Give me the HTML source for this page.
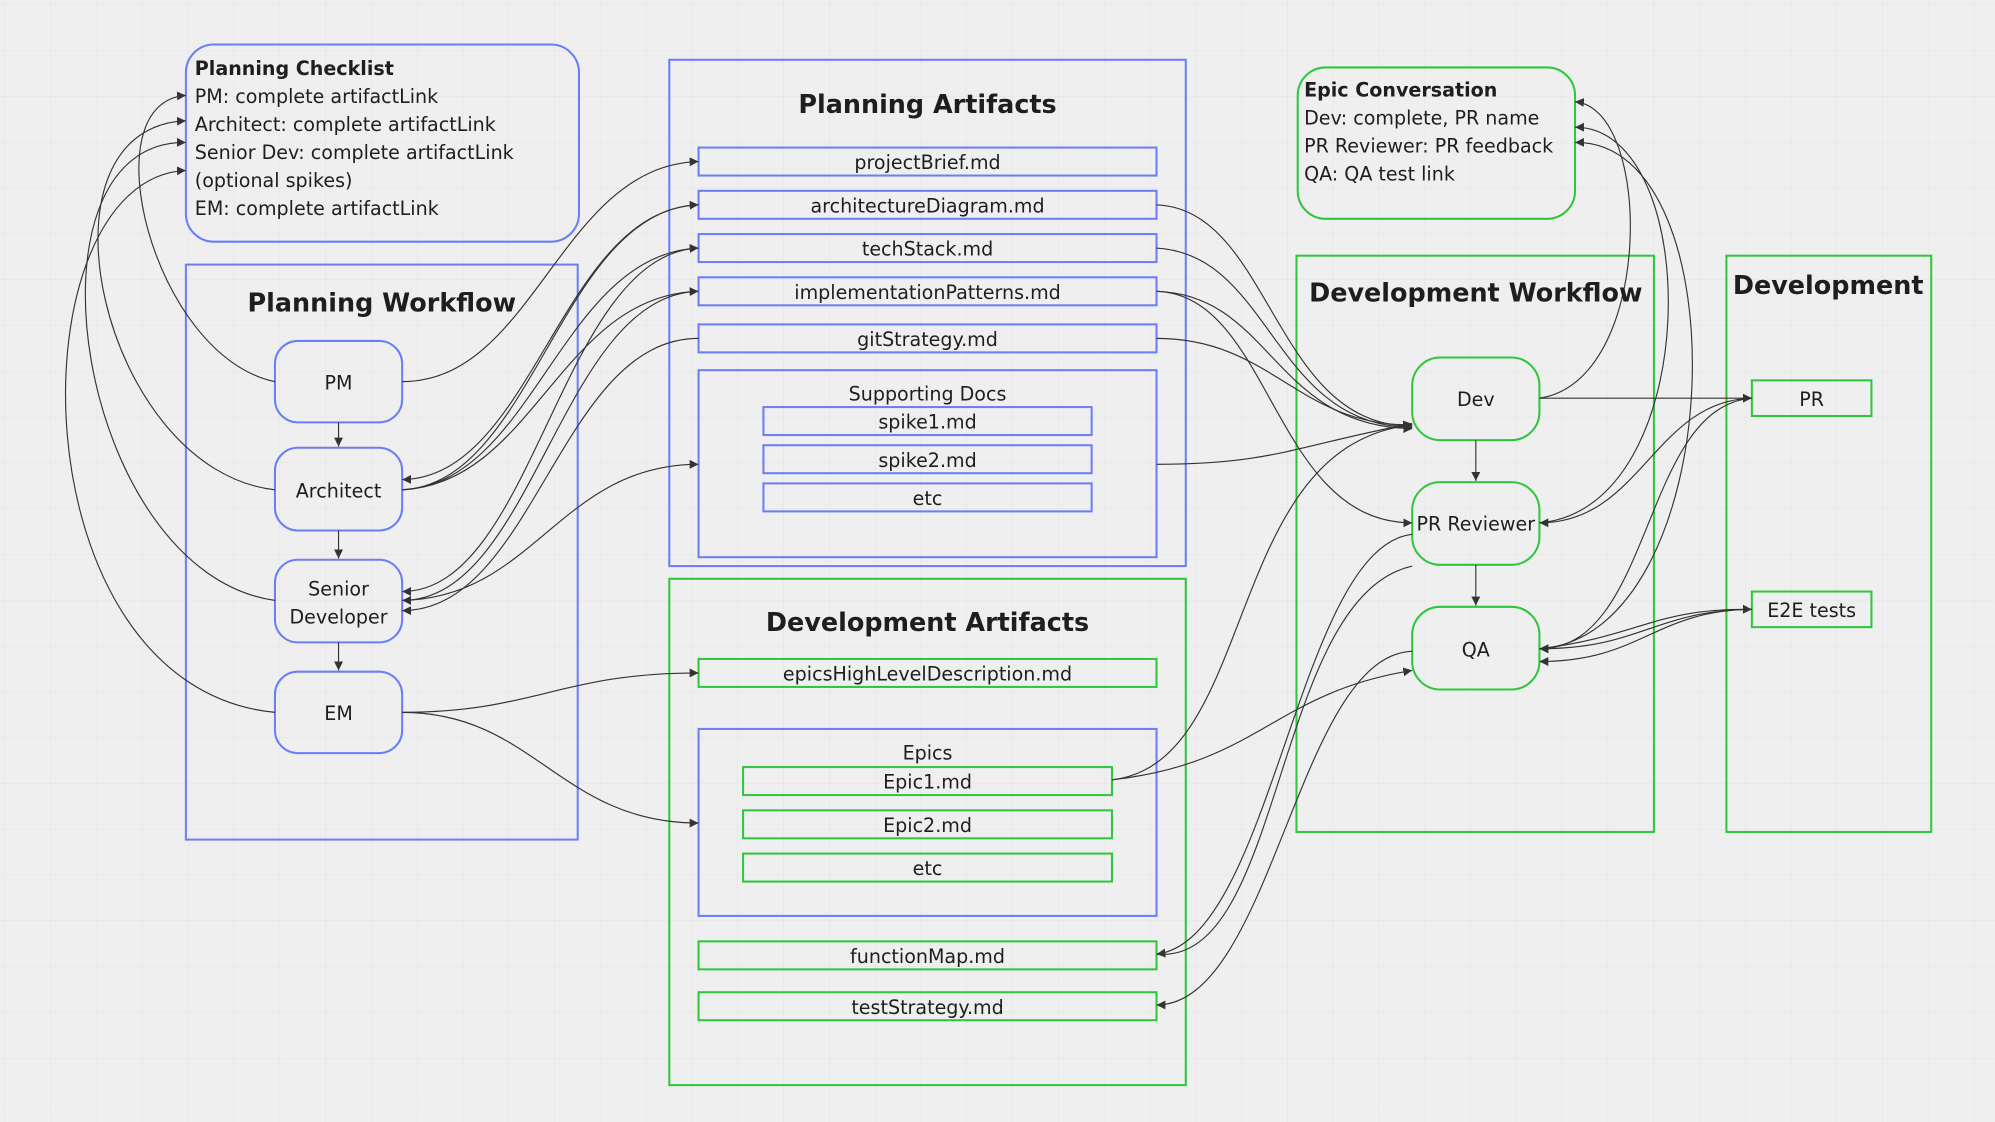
<!DOCTYPE html>
<html><head><meta charset="utf-8"><style>
html,body{margin:0;padding:0;background:#efefef;}
svg{display:block;}
text{font-family:"DejaVu Sans","Liberation Sans",sans-serif;fill:#1e1e1e;}
</style></head><body>
<svg width="1995" height="1122" viewBox="0 0 1568 882" xmlns="http://www.w3.org/2000/svg">
<defs>
<pattern id="g" width="36" height="36" patternUnits="userSpaceOnUse" x="4" y="4">
<path d="M36 0V36H0" fill="none" stroke="#e3e3e3" stroke-width="0.8"/>
</pattern>
<marker id="a" markerWidth="8" markerHeight="8" refX="7" refY="4" orient="auto" markerUnits="userSpaceOnUse">
<path d="M0,0.5 L7,4 L0,7.5 Z" fill="#333"/>
</marker>
</defs>
<rect width="1568" height="882" fill="#efefef"/>
<rect width="1568" height="882" fill="url(#g)"/>

<g fill="none" stroke-width="1.6">
<rect x="146" y="35" width="309" height="155" rx="22" stroke="#6a7ef5"/>
<rect x="146" y="208" width="308" height="452" stroke="#6a7ef5"/>
<rect x="216" y="268" width="100" height="64" rx="18" stroke="#6a7ef5"/>
<rect x="216" y="352" width="100" height="65" rx="18" stroke="#6a7ef5"/>
<rect x="216" y="440" width="100" height="65" rx="18" stroke="#6a7ef5"/>
<rect x="216" y="528" width="100" height="64" rx="18" stroke="#6a7ef5"/>
<rect x="526" y="47" width="406" height="398" stroke="#6a7ef5"/>
<rect x="549" y="116" width="360" height="22" stroke="#6a7ef5"/>
<rect x="549" y="150" width="360" height="22" stroke="#6a7ef5"/>
<rect x="549" y="184" width="360" height="22" stroke="#6a7ef5"/>
<rect x="549" y="218" width="360" height="22" stroke="#6a7ef5"/>
<rect x="549" y="255" width="360" height="22" stroke="#6a7ef5"/>
<rect x="549" y="291" width="360" height="147" stroke="#6a7ef5"/>
<rect x="600" y="320" width="258" height="22" stroke="#6a7ef5"/>
<rect x="600" y="350" width="258" height="22" stroke="#6a7ef5"/>
<rect x="600" y="380" width="258" height="22" stroke="#6a7ef5"/>
<rect x="526" y="455" width="406" height="398" stroke="#2ec73c"/>
<rect x="549" y="518" width="360" height="22" stroke="#2ec73c"/>
<rect x="549" y="573" width="360" height="147" stroke="#6a7ef5"/>
<rect x="584" y="603" width="290" height="22" stroke="#2ec73c"/>
<rect x="584" y="637" width="290" height="22" stroke="#2ec73c"/>
<rect x="584" y="671" width="290" height="22" stroke="#2ec73c"/>
<rect x="549" y="740" width="360" height="22" stroke="#2ec73c"/>
<rect x="549" y="780" width="360" height="22" stroke="#2ec73c"/>
<rect x="1020" y="53" width="218" height="119" rx="22" stroke="#2ec73c"/>
<rect x="1019" y="201" width="281" height="453" stroke="#2ec73c"/>
<rect x="1110" y="281" width="100" height="65" rx="22" stroke="#2ec73c"/>
<rect x="1110" y="379" width="100" height="65" rx="22" stroke="#2ec73c"/>
<rect x="1110" y="477" width="100" height="65" rx="22" stroke="#2ec73c"/>
<rect x="1357" y="201" width="161" height="453" stroke="#2ec73c"/>
<rect x="1377" y="299" width="94" height="28" stroke="#2ec73c"/>
<rect x="1377" y="465" width="94" height="28" stroke="#2ec73c"/>
</g>

<g fill="none" stroke="#333" stroke-width="0.9" marker-end="url(#a)">
<path d="M266 332V351"/><path d="M266 417V439"/><path d="M266 505V527"/>
<path d="M1160 346V378"/><path d="M1160 444V476"/>
<path d="M216 300C120 280 70 80 146 75"/>
<path d="M216 385C80 370 20 100 146 95"/>
<path d="M216 472C60 450 10 110 146 112"/>
<path d="M216 560C10 540 10 140 146 134"/>
<path d="M316 300C420 300 440 130 549 127"/>
<path d="M316 385C420 380 440 165 549 161"/>
<path d="M316 385C420 380 440 200 549 195"/>
<path d="M316 385C420 380 440 232 549 229"/>
<path d="M549 161C440 165 420 375 316 377"/>
<path d="M549 195C440 200 420 465 316 465"/>
<path d="M549 229C440 232 420 472 316 472"/>
<path d="M549 266C440 266 420 480 316 480"/>
<path d="M316 472C420 470 440 365 549 365"/>
<path d="M316 560C420 560 440 529 549 529"/>
<path d="M316 560C420 560 440 647 549 647"/>
<path d="M909 161C1000 165 1000 335 1110 335"/>
<path d="M909 195C1000 200 1000 335 1110 336"/>
<path d="M909 229C1000 232 1000 335 1110 337"/>
<path d="M909 229C1000 232 1000 411 1110 411"/>
<path d="M909 266C1000 266 1020 335 1110 334"/>
<path d="M909 365C1000 365 1020 350 1110 333"/>
<path d="M874 613C990 600 960 350 1110 334"/>
<path d="M874 613C990 600 1000 545 1110 527"/>
<path d="M1110 420C1020 430 1000 740 909 750"/>
<path d="M1110 512C1020 515 1000 790 909 790"/>
<path d="M1110 445C1000 470 1010 760 909 750" marker-end="none"/>
<path d="M1210 313L1377 313"/>
<path d="M1210 313C1300 300 1300 85 1238 80"/>
<path d="M1210 411C1340 400 1340 100 1238 100"/>
<path d="M1210 510C1360 500 1370 110 1238 112"/>
<path d="M1377 313C1300 315 1290 411 1210 411"/>
<path d="M1377 313C1290 320 1300 510 1210 510"/>
<path d="M1377 479C1300 480 1290 510 1210 510"/>
<path d="M1377 479C1300 480 1290 520 1210 520"/>
<path d="M1210 510C1290 500 1300 478 1377 479"/>
</g>

<g font-size="15">
<text x="153" y="59" font-weight="bold">Planning Checklist</text>
<text x="153" y="81">PM: complete artifactLink</text>
<text x="153" y="103">Architect: complete artifactLink</text>
<text x="153" y="125">Senior Dev: complete artifactLink</text>
<text x="153" y="147">(optional spikes)</text>
<text x="153" y="169">EM: complete artifactLink</text>
<text x="1025" y="76" font-weight="bold">Epic Conversation</text>
<text x="1025" y="98">Dev: complete, PR name</text>
<text x="1025" y="120">PR Reviewer: PR feedback</text>
<text x="1025" y="142">QA: QA test link</text>
</g>
<g font-size="20" font-weight="bold" text-anchor="middle">
<text x="300" y="245">Planning Workflow</text>
<text x="729" y="89">Planning Artifacts</text>
<text x="729" y="496">Development Artifacts</text>
<text x="1160" y="237">Development Workflow</text>
<text x="1437" y="231">Development</text>
</g>
<g font-size="15" text-anchor="middle">
<text x="266" y="306">PM</text>
<text x="266" y="391">Architect</text>
<text x="266" y="468">Senior</text>
<text x="266" y="490">Developer</text>
<text x="266" y="566">EM</text>
<text x="729" y="133">projectBrief.md</text>
<text x="729" y="167">architectureDiagram.md</text>
<text x="729" y="201">techStack.md</text>
<text x="729" y="235">implementationPatterns.md</text>
<text x="729" y="272">gitStrategy.md</text>
<text x="729" y="315">Supporting Docs</text>
<text x="729" y="337">spike1.md</text>
<text x="729" y="367">spike2.md</text>
<text x="729" y="397">etc</text>
<text x="729" y="535">epicsHighLevelDescription.md</text>
<text x="729" y="597">Epics</text>
<text x="729" y="620">Epic1.md</text>
<text x="729" y="654">Epic2.md</text>
<text x="729" y="688">etc</text>
<text x="729" y="757">functionMap.md</text>
<text x="729" y="797">testStrategy.md</text>
<text x="1160" y="319">Dev</text>
<text x="1160" y="417">PR Reviewer</text>
<text x="1160" y="516">QA</text>
<text x="1424" y="319">PR</text>
<text x="1424" y="485">E2E tests</text>
</g>
</svg>
</body></html>
